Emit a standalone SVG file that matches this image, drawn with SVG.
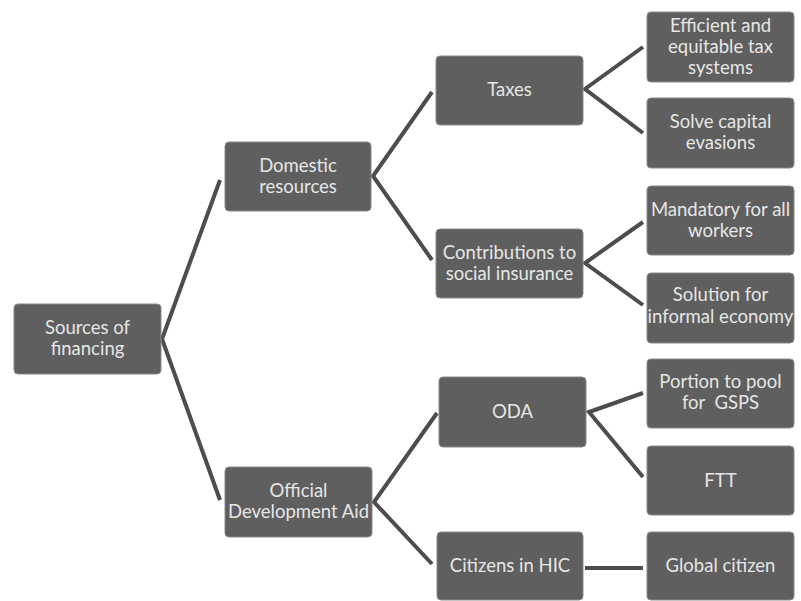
<svg xmlns="http://www.w3.org/2000/svg" width="801" height="601" viewBox="0 0 801 601">
<style>
.box{fill:#5f5f5f;stroke:#8a8a8a;stroke-width:1}
.t{font-family:Lato,"Open Sans","Liberation Sans",sans-serif;font-size:18.5px;fill:#e6e6e6;text-anchor:middle;white-space:pre}
.c{fill:none;stroke:#4d4d4d;stroke-width:4;stroke-linejoin:miter}
</style>
<rect width="801" height="601" fill="#ffffff"/>
<g id="connectors">
<polyline class="c" points="220,180 162,339 220,500"/>
<polyline class="c" points="432,92 373,176 432,260"/>
<polyline class="c" points="437,413 374,502 432,564"/>
<polyline class="c" points="643,47 585,89 643,133"/>
<polyline class="c" points="643,222 585,263 643,305"/>
<polyline class="c" points="643,393 589,412 643,477"/>
<line class="c" x1="585" y1="568" x2="643" y2="568"/>
</g>
<g id="sources"><rect class="box" x="14" y="304" width="147" height="70" rx="4"/><text class="t" x="87.5" y="334">Sources of</text><text class="t" x="87.5" y="355">financing</text></g>
<g id="domestic"><rect class="box" x="225" y="142" width="146" height="69" rx="4"/><text class="t" x="298" y="172">Domestic</text><text class="t" x="298" y="193">resources</text></g>
<g id="oda-aid"><rect class="box" x="225" y="467" width="147" height="70" rx="4"/><text class="t" x="298.5" y="497">Official</text><text class="t" x="298.5" y="518">Development Aid</text></g>
<g id="taxes"><rect class="box" x="436" y="56" width="147" height="69" rx="4"/><text class="t" x="509.5" y="96">Taxes</text></g>
<g id="contrib"><rect class="box" x="436" y="229" width="147" height="69" rx="4"/><text class="t" x="509.5" y="259">Contributions to</text><text class="t" x="509.5" y="280">social insurance</text></g>
<g id="oda"><rect class="box" x="439" y="377" width="147" height="70" rx="4"/><text class="t" x="512.5" y="418">ODA</text></g>
<g id="hic"><rect class="box" x="437" y="532" width="146" height="68" rx="4"/><text class="t" x="510" y="572">Citizens in HIC</text></g>
<g id="efficient"><rect class="box" x="647" y="12" width="147" height="70" rx="4"/><text class="t" x="720.5" y="32">Efficient and</text><text class="t" x="720.5" y="53">equitable tax</text><text class="t" x="720.5" y="74">systems</text></g>
<g id="solve"><rect class="box" x="647" y="98" width="147" height="70" rx="4"/><text class="t" x="720.5" y="128">Solve capital</text><text class="t" x="720.5" y="149">evasions</text></g>
<g id="mandatory"><rect class="box" x="647" y="186" width="147" height="69" rx="4"/><text class="t" x="720.5" y="216">Mandatory for all</text><text class="t" x="720.5" y="237">workers</text></g>
<g id="solution"><rect class="box" x="647" y="273" width="147" height="70" rx="4"/><text class="t" x="720.5" y="301">Solution for</text><text class="t" x="720.5" y="323">informal economy</text></g>
<g id="portion"><rect class="box" x="647" y="359" width="147" height="69" rx="4"/><text class="t" x="720.5" y="388">Portion to pool</text><text class="t" x="720.5" y="409">for  GSPS</text></g>
<g id="ftt"><rect class="box" x="647" y="446" width="147" height="69" rx="4"/><text class="t" x="720.5" y="487">FTT</text></g>
<g id="global"><rect class="box" x="647" y="532" width="147" height="68" rx="4"/><text class="t" x="720.5" y="572">Global citizen</text></g>
</svg>
